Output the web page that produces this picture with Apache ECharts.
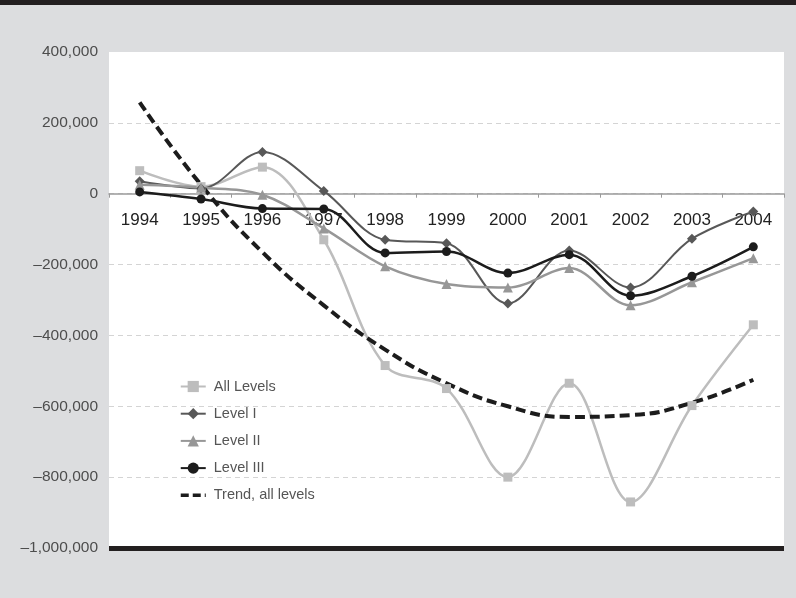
<!DOCTYPE html>
<html>
<head>
<meta charset="utf-8">
<script src="https://cdn.jsdelivr.net/npm/echarts@6/dist/echarts.min.js"></script>
<style>
  html, body { margin: 0; padding: 0; background: #dcdddf; }
  #chart { width: 796px; height: 598px; }
</style>
</head>
<body>
<div id="chart"></div>
<script>
// Annual change by level, 1994–2004
const years = ['1994', '1995', '1996', '1997', '1998', '1999', '2000', '2001', '2002', '2003', '2004'];
const allLevels = [65000, 20000, 75000, -130000, -485000, -550000, -800000, -535000, -870000, -598000, -370000];
const levelI = [35000, 15000, 118000, 8000, -130000, -140000, -310000, -160000, -265000, -127000, -50000];
const levelII = [25000, 17000, -3000, -98000, -205000, -255000, -265000, -210000, -315000, -250000, -182000];
const levelIII = [5000, -15000, -42000, -43000, -167000, -163000, -224000, -172000, -288000, -233000, -150000];
const trendAll = [258000, 25000, -165000, -315000, -440000, -535000, -600000, -630000, -625000, -590000, -525000];

const seriesNames = ['All Levels', 'Level I', 'Level II', 'Level III', 'Trend, all levels'];
const yTicks = { min: -1000000, max: 400000, step: 200000 };

const FONT = "'Liberation Sans', Arial, sans-serif";

// plot box
const GRID = { left: 109, right: 12, top: 52, bottom: 50 };
const CHART_H = 598;
const plotH = CHART_H - GRID.top - GRID.bottom;
// category axis sits on the zero line: shift it up from the bottom edge
const zeroOffset = -plotH * (0 - yTicks.min) / (yTicks.max - yTicks.min);

function fmt(v) {
  const s = Math.abs(v).toLocaleString('en-US');
  return v < 0 ? '\u2013' + s : s;
}

const chart = echarts.init(document.getElementById('chart'), null, { renderer: 'canvas' });

function lineSeries(name, data, color, symbol, size, width) {
  return {
    name: name,
    type: 'line',
    data: data,
    smooth: 0.35,
    symbol: symbol,
    symbolSize: size,
    showSymbol: true,
    itemStyle: { color: color },
    lineStyle: { color: color, width: width },
    emphasis: { disabled: true }
  };
}

chart.setOption({
  animation: false,
  backgroundColor: '#dcdddf',
  graphic: [
    { type: 'rect', left: 0, top: 0, shape: { width: 796, height: 5 }, style: { fill: '#231f20' }, z: 10 }
  ],
  grid: {
    left: GRID.left, right: GRID.right, top: GRID.top, bottom: GRID.bottom,
    show: true, backgroundColor: '#ffffff', borderWidth: 0
  },
  legend: {
    orient: 'vertical',
    left: 179, top: 379,
    padding: 0,
    itemWidth: 25, itemHeight: 14, itemGap: 12.2,
    data: [
      { name: seriesNames[0] },
      { name: seriesNames[1] },
      { name: seriesNames[2] },
      { name: seriesNames[3] },
      { name: seriesNames[4], itemStyle: { opacity: 0 }, lineStyle: { type: [8, 4], width: 3.5 } }
    ],
    textStyle: { fontFamily: FONT, fontSize: 14.5, color: '#555555', padding: [0, 0, 0, 3] },
    selectedMode: false
  },
  xAxis: {
    type: 'category',
    data: years,
    boundaryGap: true,
    position: 'bottom',
    offset: zeroOffset,
    axisLine: { onZero: false, lineStyle: { color: '#9a9a9a', width: 1.5 } },
    axisTick: { show: true, length: 4, lineStyle: { color: '#9a9a9a' } },
    axisLabel: { interval: 0, margin: 18, fontFamily: FONT, fontSize: 17, color: '#222222' },
    splitLine: { show: false }
  },
  yAxis: {
    type: 'value',
    min: yTicks.min, max: yTicks.max, interval: yTicks.step,
    axisLine: { show: false },
    axisTick: { show: false },
    axisLabel: { margin: 11, fontFamily: FONT, fontSize: 15.5, color: '#4d4d4d', formatter: fmt },
    splitLine: {
      show: true, showMinLine: false, showMaxLine: false,
      lineStyle: { color: '#d4d4d4', type: [5, 4], width: 1 }
    }
  },
  series: [
    lineSeries(seriesNames[0], allLevels, '#bdbdbd', 'rect', 9, 2.5),
    lineSeries(seriesNames[1], levelI, '#585858', 'diamond', 10, 2),
    lineSeries(seriesNames[2], levelII, '#979797', 'triangle', 10, 2.5),
    lineSeries(seriesNames[3], levelIII, '#1c1c1c', 'circle', 9, 2.5),
    {
      name: seriesNames[4],
      type: 'line',
      data: trendAll,
      smooth: 0.5,
      symbol: 'none',
      itemStyle: { color: '#1c1c1c' },
      lineStyle: { color: '#1c1c1c', width: 4, type: [10, 5], cap: 'butt' },
      emphasis: { disabled: true },
      z: 3,
      // heavy baseline along the bottom of the value range
      markLine: {
        silent: true,
        symbol: ['none', 'none'],
        label: { show: false },
        lineStyle: { color: '#231f20', width: 5, type: 'solid' },
        data: [{ yAxis: yTicks.min }]
      }
    }
  ]
});
</script>
</body>
</html>
